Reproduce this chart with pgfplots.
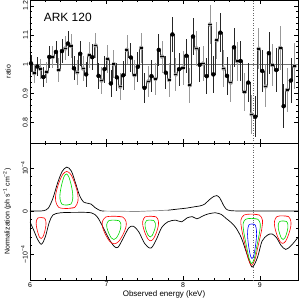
\documentclass[border=0pt]{standalone}
\usepackage{fontspec}
\setmainfont{Liberation Sans}
\usepackage{pgfplots}
\pgfplotsset{compat=1.18}
\usepackage{pgfplotstable}
\definecolor{cgreen}{rgb}{0,0.85,0}

\pgfplotstableread{
E r e
6.013 1.003 0.030
6.056 0.969 0.033
6.096 0.992 0.034
6.135 0.984 0.035
6.174 0.956 0.035
6.217 0.973 0.036
6.252 1.025 0.038
6.296 1.025 0.037
6.339 1.042 0.037
6.374 0.980 0.040
6.417 1.045 0.040
6.461 1.054 0.041
6.495 1.071 0.043
6.535 1.063 0.042
6.574 0.986 0.041
6.617 0.972 0.042
6.656 1.036 0.042
6.695 0.985 0.043
6.734 0.965 0.043
6.774 1.031 0.044
6.813 1.024 0.045
6.856 1.064 0.044
6.895 0.960 0.045
6.934 0.944 0.046
6.973 0.983 0.046
7.013 1.018 0.047
7.056 0.934 0.047
7.095 1.000 0.048
7.134 0.955 0.048
7.178 0.923 0.047
7.217 0.962 0.049
7.265 1.049 0.050
7.317 1.023 0.050
7.365 0.962 0.051
7.408 0.991 0.051
7.452 1.056 0.052
7.495 0.919 0.052
7.547 0.941 0.053
7.586 0.959 0.054
7.638 0.950 0.054
7.682 1.049 0.055
7.725 1.026 0.055
7.773 0.971 0.056
7.817 0.946 0.057
7.860 1.102 0.060
7.904 0.965 0.057
7.947 0.983 0.057
7.999 0.988 0.058
8.043 1.029 0.059
8.086 0.928 0.060
8.129 1.095 0.062
8.173 1.054 0.061
8.216 0.998 0.060
8.260 1.002 0.061
8.308 0.959 0.062
8.351 1.136 0.068
8.395 0.965 0.063
8.438 1.082 0.064
8.486 1.108 0.066
8.529 0.985 0.064
8.573 0.960 0.064
8.621 0.937 0.065
8.664 1.058 0.066
8.707 1.010 0.066
8.751 1.011 0.067
8.803 0.905 0.066
8.851 0.937 0.068
8.894 0.828 0.068
8.942 0.820 0.070
8.986 1.053 0.071
9.033 0.977 0.071
9.077 0.924 0.072
9.120 1.038 0.073
9.164 0.997 0.073
9.216 0.980 0.074
9.268 1.056 0.075
9.312 0.856 0.076
9.359 0.912 0.076
9.407 0.944 0.077
9.455 0.993 0.078
}\ratiodata

\begin{document}
\begin{tikzpicture}
\pgfplotsset{
  every axis/.append style={
    scale only axis, width=268bp,
    xmin=6, xmax=9.5,
    tick align=inside,
    xtick={6,7,8,9}, minor x tick num=4, minor y tick num=4,
    major tick length=4bp, minor tick length=2bp,
    tick style={black, line width=0.4pt},
    axis line style={line width=0.5pt},
    /pgf/number format/assume math mode=true,
    tick label style={font=\fontsize{7}{8}\selectfont},
    yticklabel style={rotate=90, anchor=south, inner sep=2bp},
    xticklabel style={inner sep=2bp},
    clip=true,
  }
}
% ---------------- top panel ----------------
\begin{axis}[name=top, height=143bp,
  ymin=0.73, ymax=1.22,
  ytick={0.8,0.9,1,1.1,1.2},
  yticklabels={0.8,0.9,1,1.1,1.2},
  xticklabels={},
  ylabel={ratio},
  ylabel style={font=\fontsize{7}{8}\selectfont, at={(axis description cs:-0.082,0.5)}, rotate=0, anchor=center},
]
\addplot[black!55, line width=0.6pt, forget plot] coordinates {(6,1) (9.5,1)};
\addplot[black!60, dotted, line width=0.5pt] coordinates {(8.91,0.73) (8.91,1.22)};
% error bars, alternating shades
\addplot[only marks, mark=none, black!40,
  x filter/.expression={mod(\coordindex,2)==1 ? x : nan}, unbounded coords=discard,
  error bars/.cd, y dir=both, y explicit, error mark=none,
  error bar style={black!40, line width=0.7pt}]
  table[x=E, y=r, y error=e] {\ratiodata};
\addplot[only marks, mark=none, black,
  x filter/.expression={mod(\coordindex,2)==0 ? x : nan}, unbounded coords=discard,
  error bars/.cd, y dir=both, y explicit, error mark=none,
  error bar style={black!85, line width=0.7pt}]
  table[x=E, y=r, y error=e] {\ratiodata};
\addplot[const plot mark mid, black!80, line width=0.8pt, mark=none] table[x=E, y=r] {\ratiodata};
\addplot[only marks, mark=-, mark size=1.6pt, mark options={line width=1.6pt, black}] table[x=E, y=r] {\ratiodata};
\node[anchor=west, font=\fontsize{12}{13}\selectfont] at (axis cs:6.135,1.16) {ARK 120};
\end{axis}
% ---------------- bottom panel ----------------
\begin{axis}[name=bot, at={(top.south west)}, anchor=north west, height=137bp,
  ymin=-1.6, ymax=1.58,
  ytick={-1,0,1},
  yticklabels={−10\textsuperscript{−4}, 0, 10\textsuperscript{−4}},
  xticklabels={6,7,8,9},
  xlabel={Observed energy (keV)},
  xlabel style={font=\fontsize{8}{9}\selectfont, inner sep=1bp},
  ylabel={Normalization (ph s\textsuperscript{−1} cm\textsuperscript{−2})},
  ylabel style={font=\fontsize{7}{8}\selectfont, at={(axis description cs:-0.085,0.5)}, rotate=0, anchor=center},
]
\addplot[black!60, dotted, line width=0.5pt] coordinates {(8.91,-1.6) (8.91,1.58)};
% upper envelope
\addplot[black, line width=0.7pt, smooth] coordinates {
(6.0,0.0) (6.1,0.0) (6.18,0.01) (6.24,0.07) (6.30,0.3) (6.36,0.65) (6.42,0.92) (6.48,1.02)
(6.54,0.93) (6.60,0.62) (6.65,0.35) (6.70,0.21) (6.76,0.18) (6.80,0.16) (6.85,0.08) (6.92,0.01) (6.97,0.0)};
\addplot[black!45, line width=0.7pt] coordinates {(6.97,0.0) (7.4,-0.01) (7.8,0.02)};
\addplot[black, line width=0.7pt, smooth] coordinates {
(7.8,0.02) (7.95,0.05) (8.05,0.07) (8.15,0.1) (8.22,0.12) (8.28,0.16) (8.34,0.26) (8.40,0.34) (8.44,0.36)
(8.48,0.3) (8.52,0.16) (8.56,0.05) (8.62,0.01) (8.8,0.0) (9.1,0.0) (9.5,0.0)};
% lower envelope
\addplot[black, line width=0.7pt, smooth] coordinates {
(6.0,-0.25) (6.05,-0.45) (6.10,-0.66) (6.15,-0.77) (6.20,-0.6) (6.25,-0.27) (6.30,-0.09) (6.40,-0.04)
(6.6,-0.03) (6.8,-0.04) (6.88,-0.14) (6.95,-0.36) (7.03,-0.64) (7.10,-0.82) (7.15,-0.84) (7.22,-0.62)
(7.29,-0.39) (7.35,-0.35) (7.42,-0.48) (7.50,-0.76) (7.58,-0.86) (7.65,-0.66) (7.72,-0.38) (7.80,-0.25)
(7.90,-0.21) (7.98,-0.25) (8.05,-0.16) (8.12,-0.13) (8.18,-0.18) (8.25,-0.12) (8.32,-0.07) (8.42,-0.04)
(8.50,-0.08) (8.56,-0.17) (8.63,-0.27) (8.69,-0.39) (8.76,-0.62) (8.83,-0.98) (8.90,-1.30) (8.97,-1.08)
(9.03,-0.70) (9.10,-0.56) (9.16,-0.53) (9.22,-0.62) (9.28,-0.80) (9.34,-0.89) (9.40,-0.82) (9.46,-0.70) (9.5,-0.61)};
% contours at 6.5 keV
\addplot[red, line width=0.6pt, smooth] coordinates {
(6.48,0.06) (6.585,0.086) (6.626,0.232) (6.623,0.404) (6.585,0.645) (6.533,0.851) (6.48,0.92)
(6.428,0.851) (6.375,0.645) (6.338,0.404) (6.335,0.232) (6.375,0.086) (6.48,0.06) (6.585,0.086)};
\addplot[cgreen, line width=0.6pt, smooth] coordinates {
(6.475,0.14) (6.535,0.162) (6.558,0.284) (6.556,0.428) (6.535,0.63) (6.505,0.802) (6.475,0.86)
(6.445,0.802) (6.416,0.63) (6.394,0.428) (6.392,0.284) (6.416,0.162) (6.475,0.14) (6.535,0.162)};
% 6.15 keV
\addplot[red, line width=0.6pt, smooth] coordinates {
(6.145,-0.15) (6.191,-0.165) (6.208,-0.248) (6.207,-0.346) (6.191,-0.483) (6.168,-0.601) (6.145,-0.64)
(6.122,-0.601) (6.100,-0.483) (6.083,-0.346) (6.082,-0.248) (6.100,-0.165) (6.145,-0.15) (6.191,-0.165)};
% 7.1 keV
\addplot[red, line width=0.6pt, smooth] coordinates {
(7.10,-0.12) (7.212,-0.139) (7.255,-0.248) (7.252,-0.376) (7.212,-0.555) (7.156,-0.709) (7.10,-0.76)
(7.044,-0.709) (6.988,-0.555) (6.948,-0.376) (6.945,-0.248) (6.988,-0.139) (7.10,-0.12) (7.212,-0.139)};
\addplot[cgreen, line width=0.6pt, smooth] coordinates {
(7.095,-0.21) (7.162,-0.224) (7.187,-0.30) (7.185,-0.39) (7.162,-0.516) (7.128,-0.624) (7.095,-0.66)
(7.062,-0.624) (7.029,-0.516) (7.005,-0.39) (7.003,-0.30) (7.029,-0.224) (7.095,-0.21) (7.162,-0.224)};
% 7.57 keV
\addplot[red, line width=0.6pt, smooth] coordinates {
(7.575,-0.12) (7.649,-0.137) (7.677,-0.234) (7.675,-0.348) (7.649,-0.508) (7.612,-0.644) (7.575,-0.69)
(7.538,-0.644) (7.502,-0.508) (7.475,-0.348) (7.473,-0.234) (7.502,-0.137) (7.575,-0.12) (7.649,-0.137)};
\addplot[cgreen, line width=0.6pt, smooth] coordinates {
(7.57,-0.21) (7.619,-0.222) (7.638,-0.288) (7.637,-0.366) (7.619,-0.475) (7.595,-0.569) (7.57,-0.60)
(7.546,-0.569) (7.521,-0.475) (7.504,-0.366) (7.502,-0.288) (7.521,-0.222) (7.57,-0.21) (7.619,-0.222)};
% 8.9 keV
\addplot[red, line width=0.6pt, smooth] coordinates {
(8.895,-0.07) (8.997,-0.094) (9.036,-0.213) (9.026,-0.427) (8.982,-0.784) (8.939,-1.117) (8.895,-1.26)
(8.852,-1.117) (8.808,-0.784) (8.765,-0.427) (8.754,-0.213) (8.794,-0.094) (8.895,-0.07) (8.997,-0.094)};
\addplot[cgreen, line width=0.6pt, smooth] coordinates {
(8.895,-0.17) (8.976,-0.191) (9.007,-0.296) (8.999,-0.485) (8.964,-0.80) (8.930,-1.094) (8.895,-1.22)
(8.861,-1.094) (8.826,-0.80) (8.792,-0.485) (8.783,-0.296) (8.815,-0.191) (8.895,-0.17) (8.976,-0.191)};
\addplot[blue, line width=0.6pt, smooth] coordinates {
(8.90,-0.30) (8.942,-0.324) (8.958,-0.46) (8.957,-0.62) (8.942,-0.844) (8.921,-1.036) (8.90,-1.10)
(8.879,-1.036) (8.858,-0.844) (8.843,-0.62) (8.842,-0.46) (8.858,-0.324) (8.90,-0.30) (8.942,-0.324)};
% 9.3 keV
\addplot[red, line width=0.6pt, smooth] coordinates {
(9.30,-0.11) (9.377,-0.129) (9.407,-0.238) (9.405,-0.366) (9.377,-0.545) (9.339,-0.699) (9.30,-0.75)
(9.262,-0.699) (9.223,-0.545) (9.196,-0.366) (9.193,-0.238) (9.223,-0.129) (9.30,-0.11) (9.377,-0.129)};
\addplot[cgreen, line width=0.6pt, smooth] coordinates {
(9.305,-0.23) (9.351,-0.243) (9.368,-0.316) (9.367,-0.402) (9.351,-0.522) (9.328,-0.626) (9.305,-0.66)
(9.282,-0.626) (9.260,-0.522) (9.243,-0.402) (9.242,-0.316) (9.260,-0.243) (9.305,-0.23) (9.351,-0.243)};
\end{axis}
\pgfresetboundingbox
\path ([xshift=-30bp]top.north west) rectangle ([xshift=2bp,yshift=-20bp]bot.south east);
\end{tikzpicture}
\end{document}
